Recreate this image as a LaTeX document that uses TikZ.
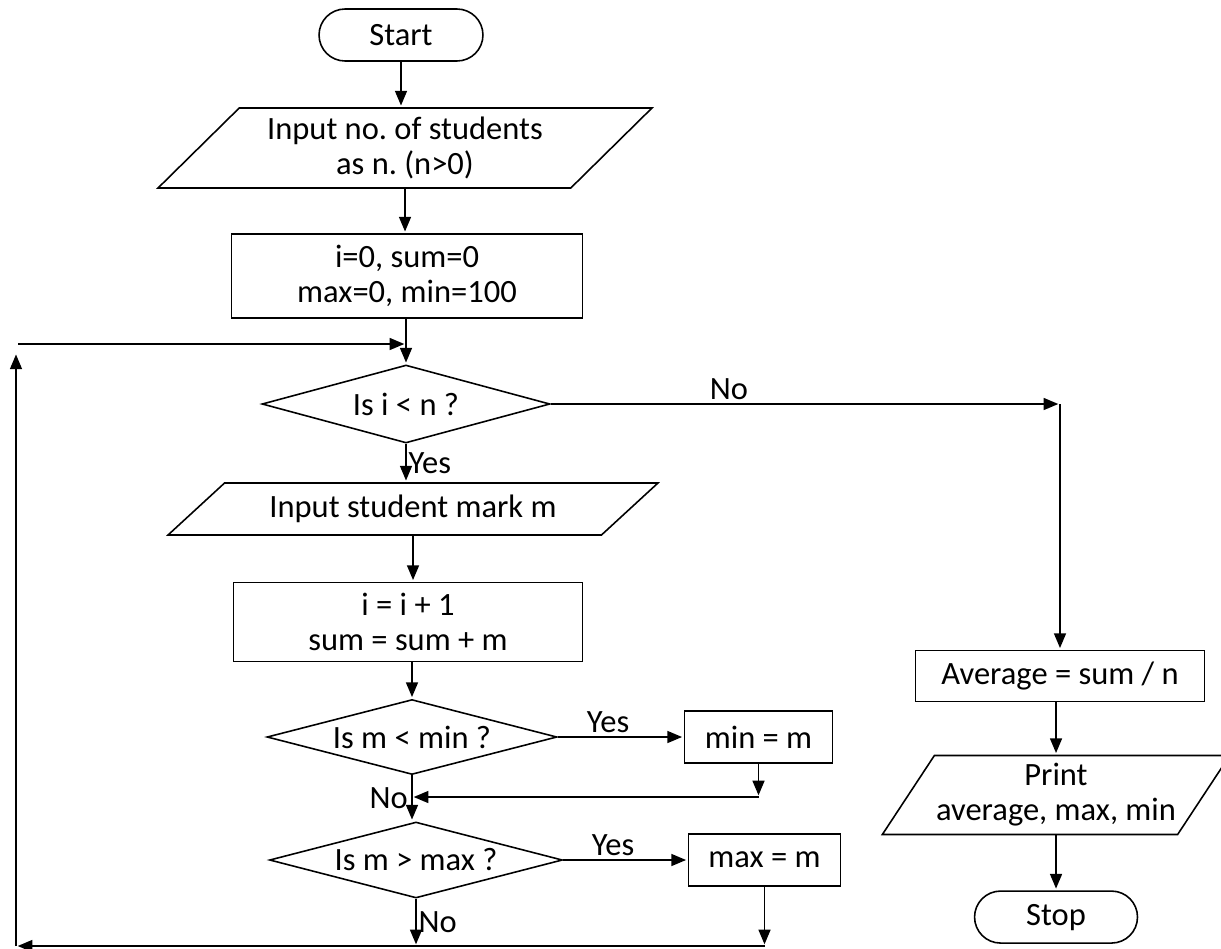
\documentclass[tikz,border=0pt]{standalone}
\usepackage{fontspec}
\setmainfont{Carlito}
\usetikzlibrary{shapes,arrows,positioning}

\begin{document}
\begin{tikzpicture}[x=0.02cm,y=-0.02cm,->,>=triangle 45,shorten >=1pt,
            line width=0.9pt,
            font=\fontsize{18.5}{20}\selectfont\frenchspacing,
            term node/.style={rounded rectangle,draw,inner sep=2pt,
             minimum width=3.42cm, minimum height=1.04cm},
            io node/.style={trapezium,trapezium stretches body,draw,
             align=center,inner sep=1pt},
            proc node/.style={rectangle,draw,align=center,inner sep=2pt},
            test node/.style={diamond,draw,aspect=3.8,inner sep=0pt},
            lbl/.style={inner sep=2pt}]

            \useasboundingbox (0,0) rectangle (1221,948);

            % main column
            \node[term node] (start) at (401,35) {Start};
            \node[io node, trapezium left angle=39, trapezium right angle=141,
             minimum width=9.88cm, minimum height=1.6cm] (nin) at (405,148)
             {Input no. of students\\as n. (n>0)};
            \node[proc node, minimum width=7.02cm, minimum height=1.68cm] (init) at (407,276)
             {i=0, sum=0\\max=0, min=100};
            \node[test node, minimum width=5.76cm, minimum height=1.56cm] (chki) at (406,404) {Is i < n ?};
            \node[io node, trapezium left angle=29, trapezium right angle=151,
             minimum width=9.8cm, minimum height=1.04cm] (mark) at (413,509)
             {Input student mark m};
            \node[proc node, minimum width=6.98cm, minimum height=1.58cm] (incr) at (408,622)
             {i = i + 1\\sum = sum + m};
            \node[test node, minimum width=5.8cm, minimum height=1.5cm] (chkmin) at (412,737) {Is m < min ?};
            \node[test node, minimum width=5.86cm, minimum height=1.52cm] (chkmax) at (416,860) {Is m > max ?};
            \node[proc node, minimum width=2.96cm, minimum height=1.04cm] (setmin) [right=2.52cm of chkmin] {min = m};
            \node[proc node, minimum width=3.04cm, minimum height=1.04cm] (setmax) [right=2.49cm of chkmax] {max = m};

            % right column
            \node[proc node, minimum width=5.78cm, minimum height=1.02cm] (avg) at (1060,676) {Average = sum / n};
            \node[io node, trapezium left angle=52, trapezium right angle=128,
             minimum width=6.56cm, minimum height=1.58cm] (prt) at (1056,795)
             {Print\\average, max, min};
            \node[term node, minimum width=3.4cm] (stop) [below=1.1cm of prt] {Stop};

            \coordinate (turn) at (chki.east -| avg.north);
            \coordinate (minret) at (757,797);
            \coordinate (loopbot) at (16,946);
            \coordinate (looptop) at (18,344);

            \draw (start) -- (start |- nin.north);
            \draw (nin.south) -- (nin.south |- init.north);
            \draw (init.south -| chki.north) -- (chki.north);
            \draw (chki.south) -- (chki.south |- mark.north) node[midway,right,lbl,inner sep=1pt] (yes1) {Yes};
            \draw (mark.south) -- (mark.south |- incr.north);
            \draw (chkmin.north |- incr.south) -- (chkmin.north);
            \draw (chkmin.south) -- (chkmin.south |- chkmax.north) node[midway,left,lbl] (no2) {No};
            \draw (chkmax.south) -- (chkmax.south |- loopbot) node[midway,right,lbl,inner sep=1pt] (no3) {No};

            % yes branches
            \draw (chkmin.east) -- (chkmin.east -| setmin.west) node[pos=.4,above,lbl] (yes2) {Yes};
            \draw (chkmax.east) -- (chkmax.east -| setmax.west) node[pos=.4,above,lbl] (yes3) {Yes};
            \draw (setmin.south) -- (setmin.south |- minret);
            \draw (setmin.south |- minret) -- (chkmin.south |- minret);
            \draw (setmax.south) -- (setmax.south |- loopbot);

            % loop back
            \draw (setmax.south |- loopbot) -- (loopbot);
            \draw[shorten >=6pt] (loopbot) -- (loopbot |- looptop);
            \draw (looptop) -- (looptop -| chki.north);

            % exit
            \draw (chki.east) -- (turn) node[pos=.35,above,lbl] (no1) {No};
            \draw (turn) -- (avg.north);
            \draw (avg.south -| prt.north) -- (prt.north);
            \draw (prt.south) -- (stop.north);

\end{tikzpicture}
\end{document}
